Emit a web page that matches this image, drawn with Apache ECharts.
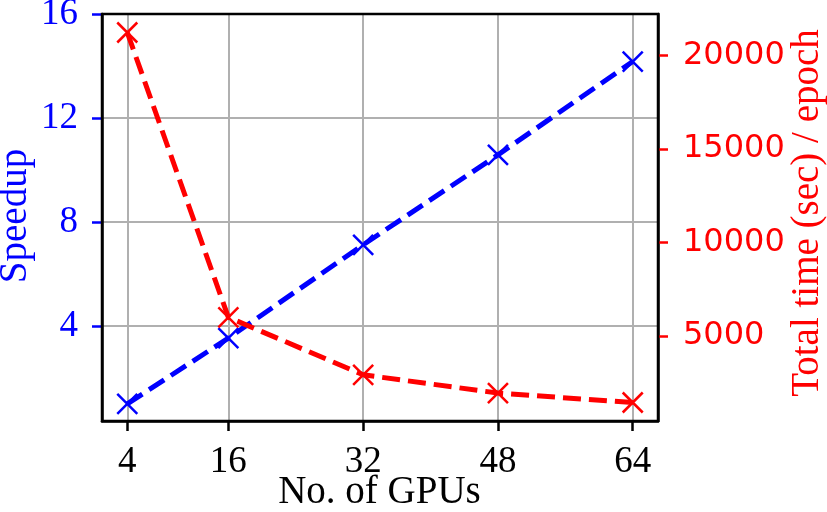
<!DOCTYPE html>
<html>
<head>
<meta charset="utf-8">
<script src="https://cdn.jsdelivr.net/npm/echarts@6/dist/echarts.min.js"></script>
<style>html,body{margin:0;padding:0;background:#fff;}#c{width:827px;height:512px;}</style>
</head>
<body>
<div id="c"></div>
<script>
const gpus = [4, 16, 32, 48, 64];
const speedup = [1.0, 3.53, 7.12, 10.58, 14.17];
const totalTime = [21215, 5996, 2928, 1949, 1446];
const xTicks = [4, 16, 32, 48, 64];
const leftTicks = [4, 8, 12, 16];
const rightTicks = [5000, 10000, 15000, 20000];
const xTitle = 'No. of GPUs';
const leftTitle = 'Speedup';
const rightTitle = 'Total time (sec) / epoch';

const serif = 'Liberation Serif';
// distance from the canvas 'middle' baseline down to the alphabetic baseline
function midToBase(size, family) {
  const cv = document.createElement('canvas').getContext('2d');
  cv.font = size + 'px "' + family + '"';
  cv.textBaseline = 'alphabetic';
  const a1 = cv.measureText('H').actualBoundingBoxAscent;
  cv.textBaseline = 'middle';
  const a2 = cv.measureText('H').actualBoundingBoxAscent;
  return a1 - a2;
}
const titleSize = 39, tickSize = 37;
const offTitle = midToBase(titleSize, serif);
const offTick = midToBase(tickSize, serif);
const axisBottomY = 512 - 91;
const xLabelMargin = Math.round(472 - offTick - tickSize / 2 - axisBottomY);

const crossPath = 'path://M0,0L10,10M10,0L0,10';
const chart = echarts.init(document.getElementById('c'), null, {renderer: 'canvas'});
chart.setOption({
  animation: false,
  backgroundColor: '#fff',
  graphic: [
    {type: 'text', x: 379.5, y: 503 - offTitle, z: 50,
     style: {text: xTitle, fontFamily: serif, fontSize: titleSize, fill: '#000', align: 'center', verticalAlign: 'middle'}},
    {type: 'text', x: 25.5 - offTitle, y: 216, rotation: Math.PI / 2, z: 50,
     style: {text: leftTitle, fontFamily: serif, fontSize: titleSize, fill: '#0000ff', align: 'center', verticalAlign: 'middle'}},
    {type: 'text', x: 818 - offTitle, y: 213, rotation: Math.PI / 2, z: 50,
     style: {text: rightTitle, fontFamily: serif, fontSize: titleSize, fill: '#ff0000', align: 'center', verticalAlign: 'middle'}}
  ],
  grid: {left: 102, top: 14, right: 169, bottom: 91, containLabel: false, outerBoundsMode: 'none', z: 5,
         show: true, borderColor: '#000', borderWidth: 2.5, backgroundColor: 'transparent'},
  xAxis: {
    type: 'value', min: 1, max: 67,
    axisLine: {show: true, lineStyle: {color: '#000', width: 2.5}},
    axisTick: {show: true, length: 10, lineStyle: {color: '#000', width: 2.5}, customValues: xTicks},
    axisLabel: {fontFamily: serif, fontSize: tickSize, color: '#000', margin: xLabelMargin, customValues: xTicks},
    splitLine: {show: true, lineStyle: {color: '#b0b0b0', width: 2}}
  },
  yAxis: [{
    type: 'value', min: 0.34, max: 16, position: 'left',
    axisLine: {show: true, lineStyle: {color: '#000', width: 2.5}},
    axisTick: {show: true, length: 10, lineStyle: {color: '#0000ff', width: 2.5}, customValues: leftTicks},
    axisLabel: {fontFamily: serif, fontSize: tickSize, color: '#0000ff', margin: 24, customValues: leftTicks},
    splitLine: {show: true, lineStyle: {color: '#b0b0b0', width: 2}}
  }, {
    type: 'value', min: 458, max: 22203, position: 'right',
    axisLine: {show: true, lineStyle: {color: '#000', width: 2.5}},
    axisTick: {show: true, length: 10, lineStyle: {color: '#ff0000', width: 2.5}, customValues: rightTicks},
    axisLabel: {fontFamily: 'DejaVu Sans', fontSize: 32, color: '#ff0000', margin: 25, customValues: rightTicks,
                formatter: v => String(v)},
    splitLine: {show: false}
  }],
  series: [{
    type: 'line', yAxisIndex: 0,
    data: gpus.map((g, i) => [g, speedup[i]]),
    symbol: crossPath, symbolSize: 20,
    itemStyle: {color: '#0000ff', borderColor: '#0000ff', borderWidth: 2.5},
    lineStyle: {color: '#0000ff', width: 5, type: [18, 8]},
    z: 3
  }, {
    type: 'line', yAxisIndex: 1,
    data: gpus.map((g, i) => [g, totalTime[i]]),
    symbol: crossPath, symbolSize: 20,
    itemStyle: {color: '#ff0000', borderColor: '#ff0000', borderWidth: 2.5},
    lineStyle: {color: '#ff0000', width: 5, type: [18, 8]},
    z: 4
  }]
});
</script>
</body>
</html>
